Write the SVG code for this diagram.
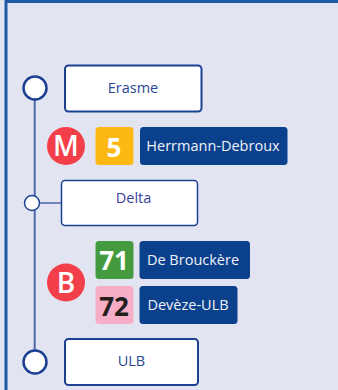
<svg xmlns="http://www.w3.org/2000/svg" width="338" height="390" viewBox="0 0 338 390">
<style>
text{font-family:"Open Sans","Noto Sans",sans-serif;text-anchor:middle}
.box{fill:#fff;stroke:#1d4192}
.stn{fill:#fff;stroke:#1d4192}
.lbl{font-size:14.500px;fill:#2a4795}
.dest{fill:#0a408c}
.dt{font-size:14.500px;fill:#f0f2f8}
.num{font-size:26px;font-weight:700}
.mode{fill:#f33f4a}
.mt{font-size:28px;font-weight:600;fill:#fff}
</style>
<rect width="338" height="390" fill="#e2e4f2"/>
<path d="M6 390V1.500H338" fill="none" stroke="#1f5aa5" stroke-width="3"/>
<g id="connectors" fill="none" stroke="#4b68a8">
<line x1="34.700" y1="100" x2="34.700" y2="350" stroke-width="2"/>
<line x1="39" y1="203" x2="62" y2="203" stroke-width="1.500"/>
</g>
<g id="stop-erasme"><circle class="stn" cx="35" cy="88" r="11.500" stroke-width="2.500"/><rect class="box" x="65" y="65.500" width="136.500" height="46" rx="3.500" stroke-width="2"/><text class="lbl" x="133" y="93">Erasme</text></g>
<g id="stop-delta"><circle class="stn" cx="32" cy="203" r="7.500" stroke-width="1.500"/><rect class="box" x="61.500" y="180.500" width="136" height="45" rx="3.500" stroke-width="1.500"/><text class="lbl" x="133.500" y="203" style="fill:#38409b">Delta</text></g>
<g id="stop-ulb"><circle class="stn" cx="35" cy="362" r="11.500" stroke-width="2.500"/><rect class="box" x="65" y="339" width="133" height="46" rx="3.500" stroke-width="2"/><text class="lbl" x="131.500" y="366">ULB</text></g>
<g id="mode-m"><circle class="mode" cx="66" cy="146" r="19"/><text class="mt" x="66" y="156">M</text></g>
<g id="line-5"><rect x="95.500" y="127" width="38" height="38" rx="3.500" fill="#fdb813"/><text class="num" x="114" y="157" fill="#fff">5</text></g>
<g id="dest-herrmann"><rect class="dest" x="140" y="127" width="147.500" height="38" rx="3.500"/><text class="dt" x="213" y="151">Herrmann-Debroux</text></g>
<g id="mode-b"><circle class="mode" cx="66" cy="282.500" r="19"/><text class="mt" x="66" y="292.500">B</text></g>
<g id="line-71"><rect x="95.500" y="241" width="38" height="38" rx="3.500" fill="#449a3f"/><text class="num" x="114" y="270" fill="#fff">71</text></g>
<g id="dest-brouckere"><rect class="dest" x="139.500" y="241" width="110.500" height="38" rx="3.500"/><text class="dt" x="193" y="265">De Brouckère</text></g>
<g id="line-72"><rect x="95.500" y="286" width="38" height="38" rx="3.500" fill="#f6adc6"/><text class="num" x="114" y="316" fill="#231f20">72</text></g>
<g id="dest-deveze"><rect class="dest" x="139.500" y="286" width="98" height="38" rx="3.500"/><text class="dt" x="188" y="310">Devèze-ULB</text></g>
</svg>
